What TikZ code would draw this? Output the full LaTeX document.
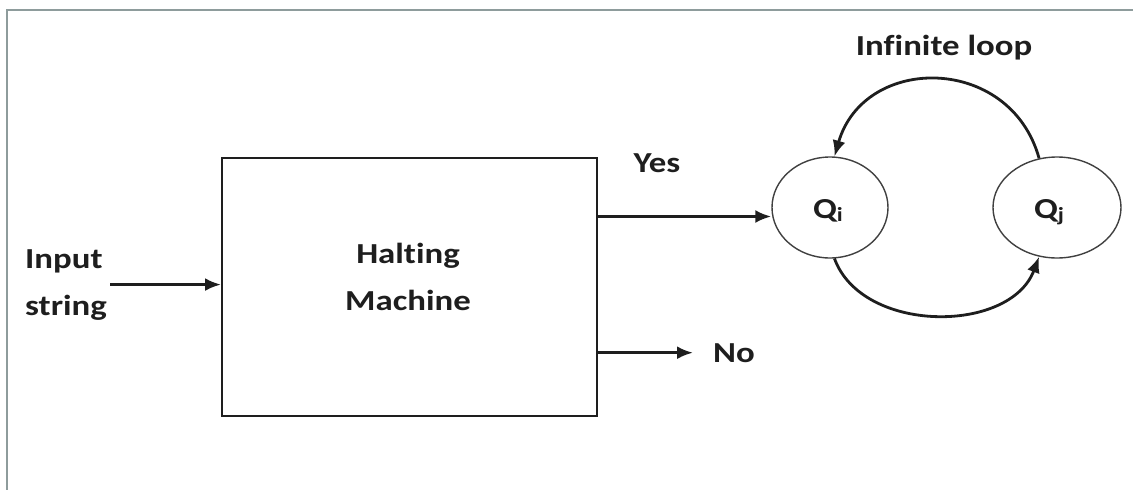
\documentclass[tikz,border=0pt]{standalone}
\usepackage{fontspec}
\usetikzlibrary{arrows.meta,shapes.geometric}
\newfontfamily\lblfont[FakeStretch=1.2,Ligatures=NoCommon]{Carlito}
\definecolor{framegray}{HTML}{8E9C9C}
\definecolor{ink}{HTML}{1E1E1E}
\begin{document}
\begin{tikzpicture}[x=1pt,y=-1pt,
  lbl/.style={font=\lblfont\bfseries\fontsize{29}{47}\selectfont, inner sep=0pt, text=ink},
  boxstyle/.style={draw=ink, line width=2pt, inner sep=0pt},
  state/.style={ellipse, draw=ink!85, line width=1.4pt, inner sep=0pt},
  arr/.style={draw=ink, line width=2.8pt, -{Latex[length=16pt,width=13pt]}},
  framestyle/.style={draw=framegray, line width=2.2pt}]
\useasboundingbox (0,0) rectangle (1133,490);
% frame
\coordinate (ftr) at (1133,10);
\coordinate (ftl) at (7,10);
\coordinate (fbl) at (7,490);
\draw[framestyle] (ftr) -- (ftl) -- (fbl);
% main box
\node[boxstyle, minimum width=375pt, minimum height=258pt] (box) at (409.5,286.5) {};
\node[lbl, align=center, anchor=base] (hm) at (408,310) {Halting\\Machine};
% input label
\node[lbl, align=left, anchor=base west] (input) at (25,315) {Input\\string};
% states
\node[state, minimum width=116pt, minimum height=101pt] (qi) at (830,207.5) {};
\node[lbl, anchor=base] (qit) at (828,218) {Q{\fontsize{20}{20}\selectfont\raisebox{-3pt}{i}}};
\node[state, minimum width=128pt, minimum height=101pt] (qj) at (1057,207.5) {};
\node[lbl, anchor=base] (qjt) at (1049,218) {Q{\fontsize{20}{20}\selectfont\raisebox{-3pt}{j}}};
% labels
\node[lbl, anchor=base] (yes) at (657,172) {Yes};
\node[lbl, anchor=base west] (no) at (713,362) {No};
\node[lbl, anchor=base] (loop) at (944,55) {Infinite loop};
% connectors
\draw[arr] ([xshift=3pt]input.east) -- (input.east -| box.west);
\draw[arr] ([yshift=-9pt]box.east |- qi.west) -- ([yshift=-9pt]qi.west);
\draw[arr] (box.east |- no.west) -- ([xshift=-20pt]no.west);
\draw[arr] (qj.110) .. controls (1010,54) and (864,54) .. (qi.85);
\draw[arr] (qi.-85) .. controls (862,334) and (1010,334) .. (qj.250);
\end{tikzpicture}
\end{document}
